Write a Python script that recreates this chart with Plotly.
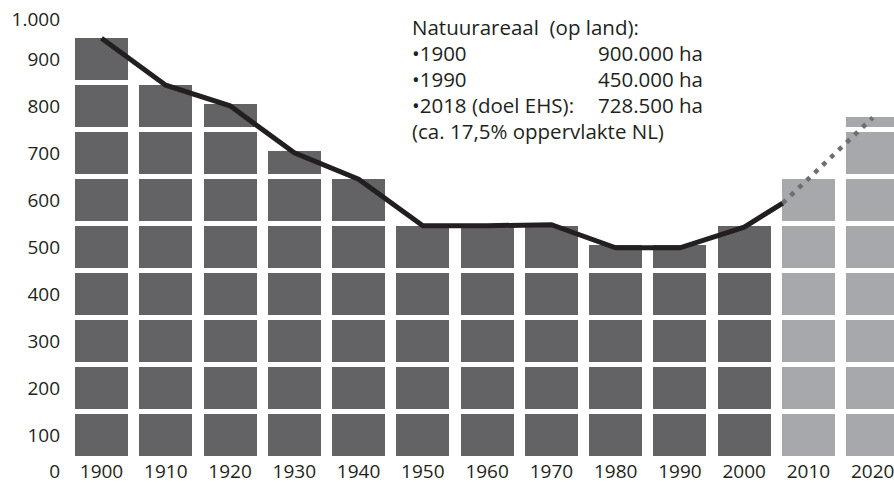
import plotly.graph_objects as go

# ---- data (thousand ha) ----
years = [1900, 1910, 1920, 1930, 1940, 1950, 1960, 1970, 1980, 1990, 2000, 2010, 2020]
area = [900, 800, 750, 650, 600, 500, 500, 500, 450, 450, 500, 600, 722]
projected = [False] * 11 + [True, True]

trend_years = [1900, 1910, 1920, 1930, 1940, 1950, 1960, 1970, 1980, 1990, 2000, 2006]
trend_vals = [889, 789, 745, 645, 589, 490, 490, 492, 443, 443, 487, 538]
forecast_years = [2006, 2020]
forecast_vals = [538, 720]

ytick_vals = [-32, 45, 145, 245, 345, 445, 545, 645, 745, 845, 928]
ytick_text = ["0", "100", "200", "300", "400", "500", "600", "700", "800", "900", "1.000"]

note_left = ["Natuurareaal  (op land):", "•1900", "•1990", "•2018 (doel EHS):",
             "(ca. 17,5% oppervlakte NL)"]
note_right = ["900.000 ha", "450.000 ha", "728.500 ha"]

# ---- style ----
DARK = "#636365"
LIGHT = "#a7a8ab"
INK = "#231f20"
DOTS = "#6d6e71"
FONT = "Open Sans"
BLOCK = 100
BLOCK_FILL = 89.4  # visible part of each 100-block (rest is white gap)

W, H = 894, 483
L = 61             # left margin in px
PX_PER_YEAR = 6.427
X0_PIX = 101.5     # 1900 centre, px
PX_PER_UNIT = 0.47
ZERO_PIX = 456     # value 0, px

colors = [LIGHT if p else DARK for p in projected]

fig = go.Figure()
nblocks = 10
for k in range(nblocks):
    base = k * BLOCK
    heights = [max(0.0, min(v - base, BLOCK_FILL)) for v in area]
    fig.add_trace(go.Bar(
        x=years, y=heights, base=[base] * len(years),
        marker=dict(color=colors, line=dict(width=0)),
        width=53 / PX_PER_YEAR, showlegend=False, hoverinfo="skip",
    ))

fig.add_trace(go.Scatter(
    x=trend_years, y=trend_vals, mode="lines",
    line=dict(color=INK, width=5), showlegend=False,
))
fig.add_trace(go.Scatter(
    x=forecast_years, y=forecast_vals, mode="lines",
    line=dict(color=DOTS, width=4.5, dash="4.5px,6.5px"), showlegend=False,
))

x_left = 1900 - (X0_PIX - L) / PX_PER_YEAR
x_right = 1900 + (W - X0_PIX) / PX_PER_YEAR
y_top = ZERO_PIX / PX_PER_UNIT
y_bot = -(H - ZERO_PIX) / PX_PER_UNIT

def px_x(p):
    return (p - L) / (W - L)

def px_y(p):
    return 1 - p / H

left_y = [27, 53, 79, 105, 131]
right_y = [53, 79, 105]
for t, yy in zip(note_left, left_y):
    fig.add_annotation(x=px_x(410), y=px_y(yy), xref="paper", yref="paper",
                       text=t, showarrow=False, xanchor="left", yanchor="middle",
                       font=dict(family=FONT, size=20.5, color=INK))
for t, yy in zip(note_right, right_y):
    fig.add_annotation(x=px_x(596), y=px_y(yy), xref="paper", yref="paper",
                       text=t, showarrow=False, xanchor="left", yanchor="middle",
                       font=dict(family=FONT, size=20.5, color=INK))

fig.update_layout(
    width=W, height=H,
    margin=dict(l=L, r=0, t=0, b=0, autoexpand=False),
    paper_bgcolor="white", plot_bgcolor="white",
    barmode="overlay", bargap=0,
    font=dict(family=FONT, size=19, color=INK),
    xaxis=dict(range=[x_left, x_right], tickvals=years, ticktext=[str(y) for y in years],
               showgrid=False, zeroline=False, showline=False, ticks="",
               anchor="free", position=(H - ZERO_PIX) / H, ticklabelstandoff=2,
               ticklabeloverflow="allow",
               tickfont=dict(family=FONT, size=19, color=INK), fixedrange=True),
    yaxis=dict(range=[y_bot, y_top], tickvals=ytick_vals, ticktext=ytick_text,
               showgrid=False, zeroline=False, showline=False, ticks="",
               ticklabeloverflow="allow",
               tickfont=dict(family=FONT, size=19, color=INK), fixedrange=True),
)

fig.write_html(
    "out.html",
    config={"displayModeBar": False},
    post_script="document.body.style.margin='0';document.body.style.overflow='hidden';",
)
